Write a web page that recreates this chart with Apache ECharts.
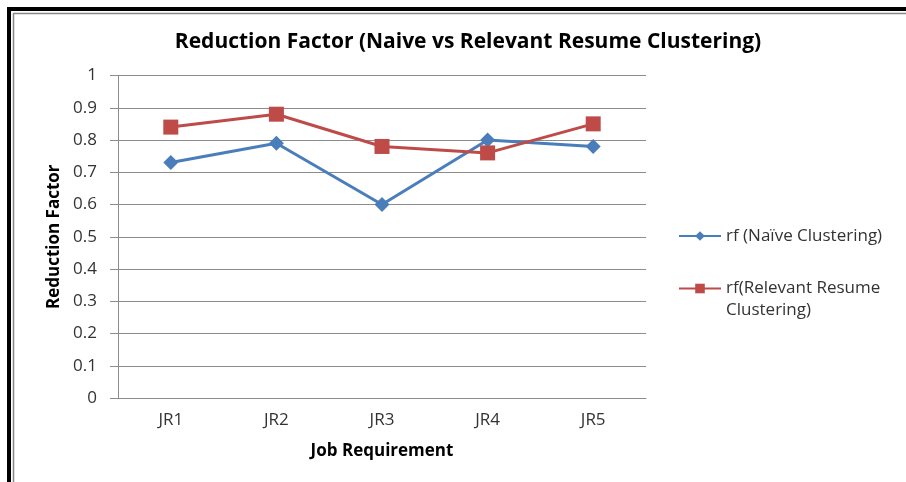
<!DOCTYPE html>
<html>
<head>
<meta charset="utf-8">
<script src="https://cdn.jsdelivr.net/npm/echarts@6/dist/echarts.min.js"></script>
<style>html,body{margin:0;padding:0;background:#fff;}#c{width:906px;height:482px;}</style>
</head>
<body>
<div id="c"></div>
<script>
const categories = ['JR1', 'JR2', 'JR3', 'JR4', 'JR5'];
const naiveValues = [0.73, 0.79, 0.60, 0.80, 0.78];
const relevantValues = [0.84, 0.88, 0.78, 0.76, 0.85];
const naiveName = 'rf (Naïve Clustering)';
const relevantName = 'rf(Relevant Resume Clustering)';

const chart = echarts.init(document.getElementById('c'), null, {renderer: 'canvas'});
const FONT = '"Open Sans", Lato, sans-serif';
chart.setOption({
  animation: false,
  backgroundColor: '#fff',
  title: {
    text: 'Reduction Factor (Naive vs Relevant Resume Clustering)',
    left: 463, top: 27, textAlign: 'center',
    textStyle: {fontFamily: FONT, fontSize: 21, fontWeight: 'bold', color: '#000'}
  },
  grid: {left: 118, right: 260, top: 75.5, bottom: 84, containLabel: false},
  legend: {
    orient: 'vertical', left: 673, top: 220, itemGap: 11, itemWidth: 42, itemHeight: 12,
    data: [naiveName, relevantName],
    formatter: function (n) { return n === relevantName ? '{p|rf(Relevant Resume\nClustering)}' : n; },
    textStyle: {fontFamily: FONT, fontSize: 17, color: '#333', lineHeight: 22,
      rich: {p: {fontFamily: FONT, fontSize: 17, color: '#333', lineHeight: 22, padding: [22, 0, 0, 0]}}}
  },
  xAxis: {
    type: 'category', data: categories, boundaryGap: true,
    name: 'Job Requirement', nameLocation: 'middle', nameGap: 45,
    nameTextStyle: {fontFamily: FONT, fontSize: 17, fontWeight: 'bold', color: '#000'},
    axisLine: {lineStyle: {color: '#8c8c8c', width: 1}},
    axisTick: {show: false},
    axisLabel: {fontFamily: FONT, fontSize: 17, color: '#333', margin: 14}
  },
  yAxis: {
    type: 'value', min: 0, max: 1, interval: 0.1,
    name: 'Reduction Factor', nameLocation: 'middle', nameGap: 50, nameRotate: 90,
    nameTextStyle: {fontFamily: FONT, fontSize: 17, fontWeight: 'bold', color: '#000'},
    axisLine: {show: true, lineStyle: {color: '#8c8c8c', width: 1}},
    axisTick: {show: true, length: 8, lineStyle: {color: '#8c8c8c'}},
    axisLabel: {fontFamily: FONT, fontSize: 17, color: '#333', margin: 21,
      formatter: function (v) { return String(Math.round(v * 10) / 10); }},
    splitLine: {lineStyle: {color: '#8c8c8c', width: 1}}
  },
  series: [
    {name: naiveName, type: 'line', data: naiveValues, symbol: 'diamond', symbolSize: 15,
     lineStyle: {color: '#4a7ebb', width: 3}, itemStyle: {color: '#4a7ebb'}},
    {name: relevantName, type: 'line', data: relevantValues, symbol: 'rect', symbolSize: 15,
     lineStyle: {color: '#be4b48', width: 3}, itemStyle: {color: '#be4b48'}}
  ],
  graphic: [
    {type: 'rect', shape: {x: 9, y: 9, width: 1000, height: 1000}, style: {fill: 'none', stroke: '#000', lineWidth: 4}, silent: true},
    {type: 'rect', shape: {x: 13.5, y: 13.5, width: 1000, height: 1000}, style: {fill: 'none', stroke: '#888', lineWidth: 1.5}, silent: true}
  ]
});
</script>
</body>
</html>
